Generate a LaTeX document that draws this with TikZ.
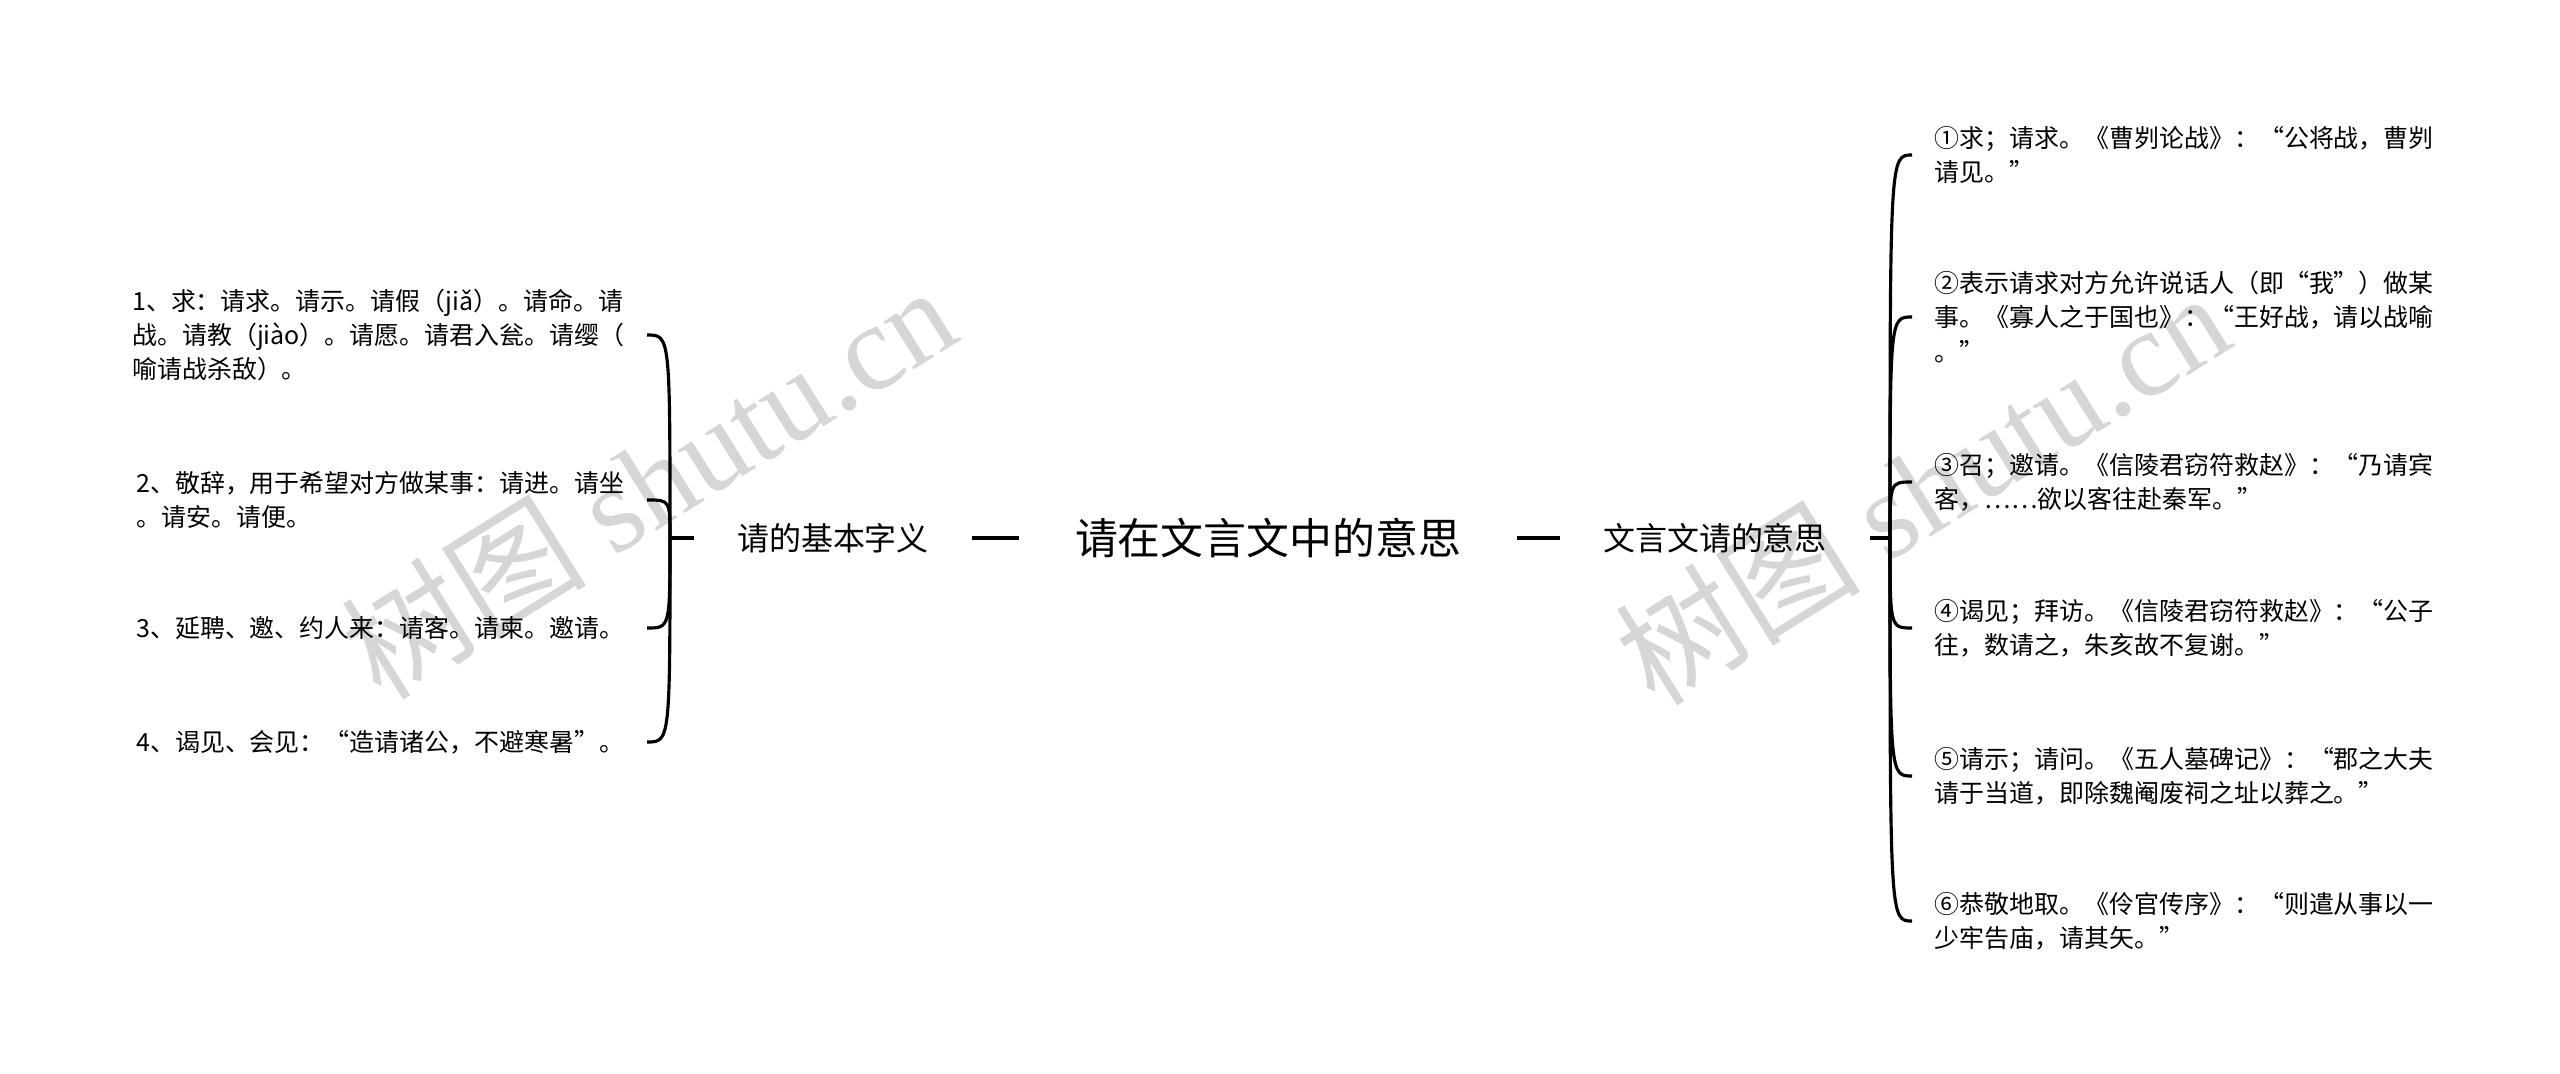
\documentclass[tikz,border=0pt]{standalone}
\usepackage{fontspec}
\setmainfont{Noto Sans CJK SC}
\newfontfamily\wmlatin{Liberation Serif}
\begin{document}
\begin{tikzpicture}[
	link/.style={line width=0.9pt},
	leaf/.style={font=\fontsize{7.1pt}{9.8pt}\selectfont, align=left, inner xsep=0.22cm, inner ysep=0pt},
	topic/.style={font=\fontsize{9.1pt}{11pt}\selectfont, inner xsep=0.42cm},
	root/.style={font=\fontsize{12.2pt}{14pt}\selectfont, inner xsep=0.55cm},
	wm/.style={text=black!16, rotate=32, font=\fontsize{35pt}{37pt}\selectfont}]
	\useasboundingbox (0,0) rectangle (25.6,10.73);
	\node[wm] (w1) at (6.48,5.92) {树图 {\wmlatin shutu.cn}};
	\node[wm] (w2) at (19.22,5.86) {树图 {\wmlatin shutu.cn}};
	\node[root] (R) at (12.68,5.35) {请在文言文中的意思};
	\node[topic] (A) at (8.33,5.35) {请的基本字义};
	\node[topic] (B) at (17.15,5.35) {文言文请的意思};
	\draw[link] (R) -- (A);
	\draw[link] (R) -- (B);
	\coordinate (a) at (6.70,5.35);
	\coordinate (b) at (18.90,5.35);
	\draw[link] (A) -- (a);
	\draw[link] (B) -- (b);
	\node[leaf,anchor=east] (a1) at (6.47,7.38) {1、求：请求。请示。请假（jiǎ）。请命。请\\战。请教（jiào）。请愿。请君入瓮。请缨（\\喻请战杀敌）。};
	\node[leaf,anchor=east] (a2) at (6.47,5.73) {2、敬辞，用于希望对方做某事：请进。请坐\\。请安。请便。};
	\node[leaf,anchor=east] (a3) at (6.47,4.45) {3、延聘、邀、约人来：请客。请柬。邀请。};
	\node[leaf,anchor=east] (a4) at (6.47,3.31) {4、谒见、会见：“造请诸公，不避寒暑”。};
	\node[leaf,anchor=west] (b1) at (19.12,9.18) {①求；请求。《曹刿论战》：“公将战，曹刿\\请见。”};
	\node[leaf,anchor=west] (b2) at (19.12,7.56) {②表示请求对方允许说话人（即“我”）做某\\事。《寡人之于国也》：“王好战，请以战喻\\。”};
	\node[leaf,anchor=west] (b3) at (19.12,5.91) {③召；邀请。《信陵君窃符救赵》：“乃请宾\\客，……欲以客往赴秦军。”};
	\node[leaf,anchor=west] (b4) at (19.12,4.45) {④谒见；拜访。《信陵君窃符救赵》：“公子\\往，数请之，朱亥故不复谢。”};
	\node[leaf,anchor=west] (b5) at (19.12,2.97) {⑤请示；请问。《五人墓碑记》：“郡之大夫\\请于当道，即除魏阉废祠之址以葬之。”};
	\node[leaf,anchor=west] (b6) at (19.12,1.52) {⑥恭敬地取。《伶官传序》：“则遣从事以一\\少牢告庙，请其矢。”};
	\foreach \n in {a1,a2,a3,a4}
		\draw[link] (a) .. controls (a |- \n.east) .. (\n.east);
	\foreach \n in {b1,b2,b3,b4,b5,b6}
		\draw[link] (b) .. controls (b |- \n.west) .. (\n.west);
\end{tikzpicture}
\end{document}
